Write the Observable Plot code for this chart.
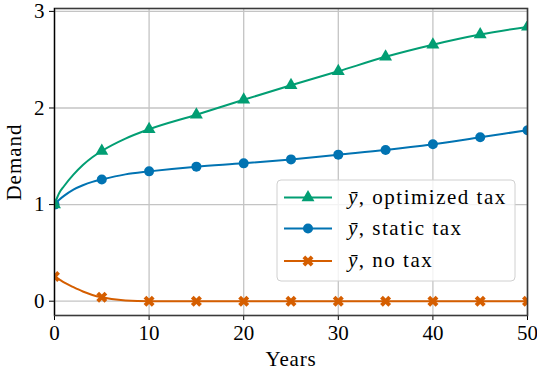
<!DOCTYPE html>
<html><head><meta charset="utf-8">
<script src="https://cdn.jsdelivr.net/npm/d3@7"></script>
<script src="https://cdn.jsdelivr.net/npm/@observablehq/plot@0.6"></script>
<style>
body{margin:0;background:#fff}
#chart{position:relative;width:537px;height:374px}
</style>
</head><body><div id="chart"></div>
<script>
// Marker samples (every 5 years)
const markerYears = [0, 5, 10, 15, 20, 25, 30, 35, 40, 45, 50];
const optimizedMarkers = [1.00, 1.555, 1.78, 1.93, 2.085, 2.235, 2.38, 2.53, 2.655, 2.76, 2.84];
const staticMarkers = [1.00, 1.26, 1.344, 1.393, 1.427, 1.468, 1.517, 1.565, 1.624, 1.697, 1.77];
const noTaxMarkers = [0.255, 0.04, 0, 0, 0, 0, 0, 0, 0, 0, 0];

// Line samples (denser near the start)
const lineYears = [0, 0.5, 1, 2, 3, 4, 5, 7.5, 10, 15, 20, 25, 30, 35, 40, 45, 50];
const optimizedLine = [1.00, 1.12, 1.19, 1.31, 1.41, 1.49, 1.555, 1.683, 1.78, 1.93, 2.085, 2.235, 2.38, 2.53, 2.655, 2.76, 2.84];
const staticLine = [1.00, 1.05, 1.09, 1.155, 1.20, 1.235, 1.26, 1.313, 1.344, 1.393, 1.427, 1.468, 1.517, 1.565, 1.624, 1.697, 1.77];
const noTaxLine = [0.255, 0.225, 0.195, 0.145, 0.10, 0.065, 0.04, 0.006, 0, 0, 0, 0, 0, 0, 0, 0, 0];

const seriesNames = ["optimized tax", "static tax", "no tax"];
const seriesColors = ["#029E73", "#0173B2", "#D55E00"];
const xTicks = [0, 10, 20, 30, 40, 50];
const yTicks = [0, 1, 2, 3];

const lineTable = (ys) => lineYears.map((x, i) => ({x, y: ys[i]}));
const markTable = (ys) => markerYears.map((x, i) => ({x, y: ys[i]}));

const font = "'Liberation Serif', 'DejaVu Serif', serif";
const fs = 21;

const lineOpts = (c) => ({x: "x", y: "y", stroke: c, strokeWidth: 2, curve: "monotone-x", clip: true});

const plot = Plot.plot({
  width: 537,
  height: 374,
  marginLeft: 54,
  marginRight: 10,
  marginTop: 8,
  marginBottom: 59,
  style: {fontFamily: font, fontSize: fs + "px", background: "#fff", color: "#000"},
  x: {domain: [0, 50]},
  y: {domain: [-0.148, 3.03]},
  marks: [
    Plot.gridX(xTicks, {stroke: "#c4c4c4", strokeOpacity: 1, strokeWidth: 1.3}),
    Plot.gridY(yTicks, {stroke: "#c4c4c4", strokeOpacity: 1, strokeWidth: 1.3}),
    Plot.axisX(xTicks, {tickSize: 5, tickPadding: 5, fontSize: fs, fontFamily: font, fontVariant: "normal", tickFormat: "d", label: "Years", labelAnchor: "center", labelArrow: "none", labelOffset: 50}),
    Plot.axisY(yTicks, {tickSize: 5, tickPadding: 5, fontSize: fs, fontFamily: font, fontVariant: "normal", tickFormat: "d", label: "Demand", labelAnchor: "center", labelArrow: "none", labelOffset: 48}),
    Plot.line(lineTable(noTaxLine), lineOpts(seriesColors[2])),
    Plot.dot(markTable(noTaxMarkers), {x: "x", y: "y", symbol: "cross", rotate: 45, r: 4.9, fill: seriesColors[2], clip: true}),
    Plot.line(lineTable(staticLine), lineOpts(seriesColors[1])),
    Plot.dot(markTable(staticMarkers), {x: "x", y: "y", symbol: "circle", r: 5, fill: seriesColors[1], clip: true}),
    Plot.line(lineTable(optimizedLine), lineOpts(seriesColors[0])),
    Plot.dot(markTable(optimizedMarkers), {x: "x", y: "y", symbol: "triangle", r: 4.8, fill: seriesColors[0], clip: true}),
    Plot.frame({stroke: "#3a3a3a", strokeWidth: 1.6}),
    Plot.ruleX([0], {stroke: "#000", strokeWidth: 1})
  ]
});

const svg = d3.select(plot);
svg.selectAll('g[aria-label="x-axis label"] text').attr("letter-spacing", 0.8);
svg.selectAll('g[aria-label="y-axis label"] text').attr("letter-spacing", 1);

// Legend (in-plot box)
const lg = svg.append("g").attr("font-family", font).attr("font-size", fs).attr("text-anchor", "start");
lg.append("rect").attr("x", 277).attr("y", 180).attr("width", 238).attr("height", 101)
  .attr("rx", 4).attr("fill", "#fff").attr("fill-opacity", 0.8).attr("stroke", "#d0d0d0").attr("stroke-width", 1);
const rowsY = [197.5, 228.5, 261];
const symbols = [d3.symbolTriangle, d3.symbolCircle, d3.symbolCross];
const sizes = [Math.PI * 4.8 * 4.8, Math.PI * 25, Math.PI * 4.9 * 4.9];
seriesNames.forEach((name, i) => {
  const y = rowsY[i];
  lg.append("line").attr("x1", 284).attr("x2", 332).attr("y1", y).attr("y2", y)
    .attr("stroke", seriesColors[i]).attr("stroke-width", 2);
  lg.append("path").attr("d", d3.symbol(symbols[i], sizes[i])())
    .attr("transform", `translate(308,${y})` + (i === 2 ? " rotate(45)" : ""))
    .attr("fill", seriesColors[i]);
  const t = lg.append("text").attr("x", 348).attr("y", y).attr("dy", "0.3em").attr("letter-spacing", 1.5);
  t.append("tspan").attr("font-style", "italic").text("ȳ");
  t.append("tspan").text(", " + name);
});

document.getElementById("chart").appendChild(plot);
</script>
</body></html>
